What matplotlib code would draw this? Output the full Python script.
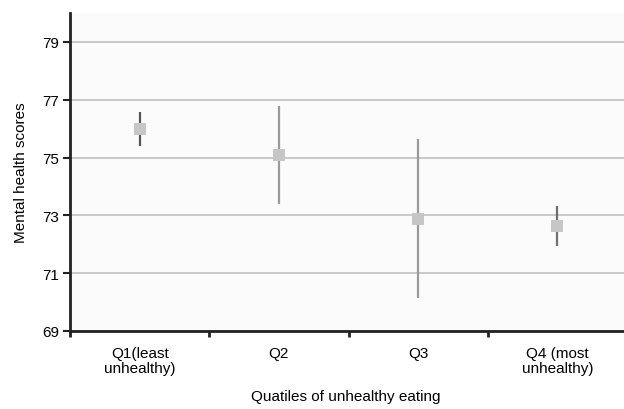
import matplotlib

matplotlib.use("Agg")
import matplotlib.pyplot as plt
import numpy as np

matplotlib.rcParams["font.family"] = ["Liberation Sans", "DejaVu Sans"]

categories = ["Q1(least\nunhealthy)", "Q2", "Q3", "Q4 (most\nunhealthy)"]
means = [76.0, 75.09, 72.89, 72.62]
upper = [76.57, 76.77, 75.64, 73.32]
lower = [75.41, 73.38, 70.15, 71.94]
bar_colors = ["#555555", "#9a9a9a", "#9a9a9a", "#707070"]
yticks = [69, 71, 73, 75, 77, 79]

fig = plt.figure(figsize=(6.24, 4.10), dpi=100, facecolor="#ffffff")
ax = fig.add_axes([70 / 624, 78 / 410, 557 / 624, 318 / 410])
ax.set_facecolor("#fbfbfb")

x = np.arange(len(categories))
for xi, m, lo, hi, c in zip(x, means, lower, upper, bar_colors):
    ax.vlines(xi, lo, hi, color=c, linewidth=1.6, zorder=3)
    ax.plot(xi, m, marker="s", markersize=8.5, color="#c6c6c6", markeredgewidth=0, zorder=4)

ax.set_xlim(-0.5, 3.5)
ax.set_ylim(69, 80)
ax.set_yticks(yticks)
ax.set_yticklabels([str(v) for v in yticks], fontsize=11)
ax.grid(True, axis="y", color="#c4c4c4", linewidth=1.3, zorder=1)
ax.set_axisbelow(True)

ax.set_xticks(x)
ax.set_xticklabels(categories, fontsize=11, linespacing=1.05)
ax.tick_params(axis="x", which="major", length=0, pad=11)
ax.set_xticks(np.arange(-0.5, 4.0, 1.0), minor=True)
ax.tick_params(axis="x", which="minor", length=4, width=2, direction="out", color="#222222")
ax.tick_params(axis="y", length=5, width=1.5, color="#222222", pad=3)

for side in ("top", "right"):
    ax.spines[side].set_visible(False)
for side in ("left", "bottom"):
    ax.spines[side].set_linewidth(2)
    ax.spines[side].set_color("#222222")

ax.set_ylabel("Mental health scores", fontsize=11, labelpad=10)
fig.text(346 / 624, 1 - 397 / 410, "Quatiles of unhealthy eating", ha="center", va="center", fontsize=11)

fig.savefig("out.png", dpi=100, facecolor="#ffffff")
